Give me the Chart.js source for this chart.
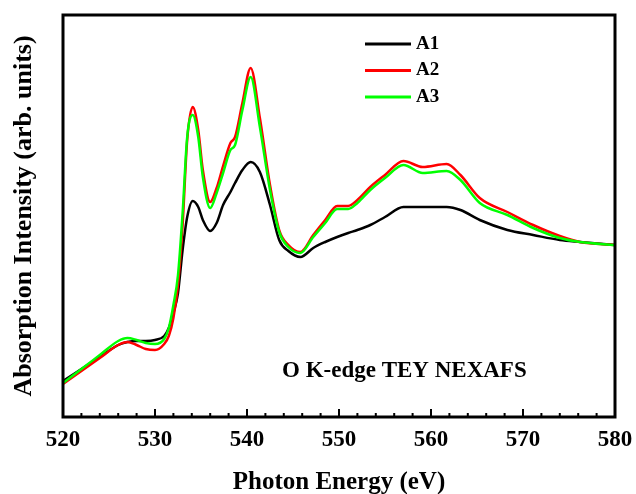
<!DOCTYPE html>
<html>
<head>
<meta charset="utf-8">
<script src="https://cdn.jsdelivr.net/npm/chart.js@4.4.0/dist/chart.umd.min.js"></script>
<style>
  html, body { margin: 0; padding: 0; background: #fff; }
  canvas { display: block; }
</style>
</head>
<body>
<canvas id="chart" width="636" height="494"></canvas>
<script>
// photon energy (eV)
const energies = [520, 522, 524, 526, 527, 528, 529, 530, 531, 531.5, 532, 532.5, 533, 533.5, 534.1, 534.7, 535.2,
  536, 536.7, 537.4, 538.2, 538.7, 539.5, 540.4, 541.4, 542.5, 543.5, 544.5, 545.8, 547.2, 548.5, 549.8, 551,
  552, 553.4, 555, 557, 559.1, 561.7, 563.2, 565.3, 568.3, 571.1, 574, 576.2, 580];

// absorption intensity (arb. units)
const a1 = [0.36, 0.48, 0.60, 0.72, 0.75, 0.76, 0.76, 0.77, 0.81, 0.89, 1.04, 1.24, 1.67, 2.00, 2.16, 2.10, 1.97,
  1.86, 1.94, 2.12, 2.25, 2.34, 2.47, 2.55, 2.45, 2.12, 1.77, 1.66, 1.60, 1.69, 1.75, 1.80, 1.84,
  1.87, 1.92, 2.00, 2.10, 2.10, 2.10, 2.07, 1.97, 1.87, 1.82, 1.77, 1.75, 1.72];
const a2 = [0.33, 0.46, 0.59, 0.72, 0.75, 0.72, 0.68, 0.67, 0.73, 0.81, 0.99, 1.32, 1.92, 2.77, 3.10, 2.87, 2.47,
  2.15, 2.29, 2.51, 2.74, 2.80, 3.14, 3.49, 2.99, 2.32, 1.87, 1.72, 1.65, 1.82, 1.97, 2.11, 2.11,
  2.17, 2.30, 2.42, 2.56, 2.50, 2.53, 2.42, 2.19, 2.05, 1.92, 1.81, 1.75, 1.72];
const a3 = [0.34, 0.48, 0.62, 0.76, 0.79, 0.77, 0.74, 0.73, 0.78, 0.89, 1.12, 1.42, 2.04, 2.80, 3.02, 2.80, 2.40,
  2.09, 2.24, 2.44, 2.67, 2.72, 3.07, 3.40, 2.90, 2.27, 1.85, 1.70, 1.64, 1.80, 1.94, 2.08, 2.08,
  2.14, 2.27, 2.39, 2.52, 2.44, 2.46, 2.37, 2.14, 2.02, 1.89, 1.79, 1.75, 1.72];

const seriesLabels = ['A1', 'A2', 'A3'];
const seriesColors = ['#000000', '#ff0000', '#00ff00'];
const seriesValues = [a1, a2, a3];

const xMin = 520, xMax = 580, xStep = 10, xMinorStep = 2;
const note = 'O K-edge TEY NEXAFS';
const serif = '"Liberation Serif", "Times New Roman", serif';

// frame, inward ticks, legend and note
const framePlugin = {
  id: 'frame',
  afterDatasetsDraw(chart) {
    const { ctx, chartArea: a } = chart;
    const x = chart.scales.x;
    ctx.save();
    ctx.strokeStyle = '#000';
    ctx.lineWidth = 2;
    ctx.beginPath();
    for (let v = xMin; v <= xMax; v += xMinorStep) {
      const px = x.getPixelForValue(v);
      const len = v % xStep === 0 ? 8 : 4;
      ctx.moveTo(px, a.bottom);
      ctx.lineTo(px, a.bottom - len);
    }
    ctx.stroke();
    ctx.lineWidth = 3;
    ctx.strokeRect(a.left, a.top, a.right - a.left, a.bottom - a.top);

    // legend
    ctx.font = 'bold 19px ' + serif;
    ctx.textBaseline = 'middle';
    ctx.fillStyle = '#000';
    seriesLabels.forEach((lbl, i) => {
      const y = 44 + i * 26.5;
      ctx.strokeStyle = seriesColors[i];
      ctx.lineWidth = 3;
      ctx.beginPath();
      ctx.moveTo(365, y);
      ctx.lineTo(411, y);
      ctx.stroke();
      ctx.fillText(lbl, 416, y);
    });

    ctx.font = 'bold 23px ' + serif;
    ctx.fillText(note, 282, 371);
    ctx.restore();
  }
};

new Chart(document.getElementById('chart'), {
  type: 'line',
  data: {
    labels: energies,
    datasets: seriesValues.map((vals, i) => ({
      label: seriesLabels[i],
      data: vals.map((v, j) => ({ x: energies[j], y: v })),
      borderColor: seriesColors[i],
      borderWidth: 2.5,
      pointRadius: 0,
      cubicInterpolationMode: 'monotone',
      order: 3 - i,
    })),
  },
  options: {
    responsive: false,
    animation: false,
    layout: { padding: { top: 15, right: 21, left: 0, bottom: 0 } },
    plugins: { legend: { display: false }, tooltip: { enabled: false } },
    scales: {
      x: {
        type: 'linear',
        min: xMin,
        max: xMax,
        grid: { display: false },
        border: { display: false },
        ticks: {
          stepSize: xStep,
          color: '#000',
          padding: 1,
          maxRotation: 0,
          font: { family: serif, size: 23, weight: 'bold' },
        },
        title: {
          display: true,
          text: 'Photon Energy (eV)',
          color: '#000',
          padding: { top: 0, bottom: -4 },
          font: { family: serif, size: 25, weight: 'bold' },
        },
        afterFit: (s) => { s.height = 77; s.paddingLeft = 0; s.paddingRight = 0; },
      },
      y: {
        min: 0,
        max: 4.02,
        grid: { display: false },
        border: { display: false },
        ticks: { display: false },
        title: {
          display: true,
          text: 'Absorption Intensity (arb. units)',
          color: '#000',
          padding: { top: 9, bottom: 0 },
          font: { family: serif, size: 26, weight: 'bold' },
        },
        afterFit: (s) => { s.width = 63; },
      },
    },
  },
  plugins: [framePlugin],
});
</script>
</body>
</html>
